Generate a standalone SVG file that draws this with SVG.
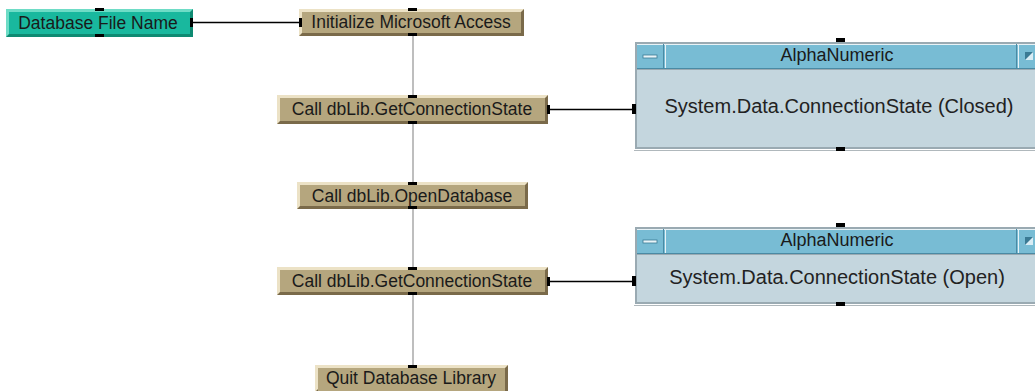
<svg xmlns="http://www.w3.org/2000/svg" width="1035" height="391" viewBox="0 0 1035 391">
<style>
text{font-family:"Liberation Sans",Arial,sans-serif;font-size:17.5px;fill:#1a1a1a;text-anchor:middle}
text.title{font-size:18px}
text.val{font-size:20px;fill:#222}
.tsh{fill:#7a6a4a}.thi{fill:#ece2c6}.tface{fill:#b5a67e}
.gsh{fill:#0e8a72}.ghi{fill:#6edcc6}.gface{fill:#19b89e}
.port{fill:#000}
.wire{stroke:#000;stroke-width:1.5;fill:none}
.seq{stroke:#a8a8a8;stroke-width:1.5;fill:none}
.pframe{fill:#9aaab2}
.ptitle{fill:#78bcd4}
.pbody{fill:#c4d6de}
.pline{stroke:#4a8aa4;stroke-width:1}
.pedge{stroke:#e8f2f6;stroke-width:1}
</style>
<g id="connectors">
<line class="seq" x1="413" y1="36" x2="413" y2="365"/>
<line class="wire" x1="193" y1="22.5" x2="299" y2="22.5"/>
<line class="wire" x1="550" y1="109.5" x2="633" y2="109.5"/>
<line class="wire" x1="550" y1="281.5" x2="633" y2="281.5"/>
</g>
<g id="db-file-name">
<rect class="gsh" x="6" y="9" width="187" height="28"/>
<polygon class="ghi" points="6,9 193,9 190,12 9,12 9,34 6,37"/>
<rect class="gface" x="9" y="12" width="181" height="22"/>
<text x="98" y="29">Database File Name</text>
<rect class="port" x="95" y="8" width="9" height="3"/>
<rect class="port" x="95" y="34" width="9" height="3"/>
<rect class="port" x="190" y="18" width="3" height="9"/>
</g>
<g id="init-access">
<rect class="tsh" x="299" y="9" width="225" height="27"/>
<polygon class="thi" points="299,9 524,9 521,12 302,12 302,33 299,36"/>
<rect class="tface" x="302" y="12" width="219" height="21"/>
<text x="411" y="28">Initialize Microsoft Access</text>
<rect class="port" x="408" y="8" width="9" height="3"/>
<rect class="port" x="408" y="33" width="9" height="3"/>
<rect class="port" x="299" y="18" width="3" height="9"/>
</g>
<g id="get-state-1">
<rect class="tsh" x="277" y="95" width="271" height="29"/>
<polygon class="thi" points="277,95 548,95 545,98 280,98 280,121 277,124"/>
<rect class="tface" x="280" y="98" width="265" height="23"/>
<text x="412" y="115">Call dbLib.GetConnectionState</text>
<rect class="port" x="408" y="95" width="9" height="3"/>
<rect class="port" x="408" y="121" width="9" height="3"/>
<rect class="port" x="547" y="105" width="3" height="9"/>
</g>
<g id="open-db">
<rect class="tsh" x="297" y="182" width="231" height="27"/>
<polygon class="thi" points="297,182 528,182 525,185 300,185 300,206 297,209"/>
<rect class="tface" x="300" y="185" width="225" height="21"/>
<text x="412" y="202">Call dbLib.OpenDatabase</text>
<rect class="port" x="408" y="182" width="9" height="3"/>
<rect class="port" x="408" y="206" width="9" height="3"/>
</g>
<g id="get-state-2">
<rect class="tsh" x="277" y="267" width="271" height="28"/>
<polygon class="thi" points="277,267 548,267 545,270 280,270 280,292 277,295"/>
<rect class="tface" x="280" y="270" width="265" height="22"/>
<text x="412" y="287">Call dbLib.GetConnectionState</text>
<rect class="port" x="408" y="267" width="9" height="3"/>
<rect class="port" x="408" y="292" width="9" height="3"/>
<rect class="port" x="547" y="277" width="3" height="9"/>
</g>
<g id="quit-lib">
<rect class="tsh" x="315" y="365" width="193" height="27"/>
<polygon class="thi" points="315,365 508,365 505,368 318,368 318,389 315,392"/>
<rect class="tface" x="318" y="368" width="187" height="24"/>
<text x="411" y="384">Quit Database Library</text>
<rect class="port" x="408" y="365" width="9" height="3"/>
</g>
<g id="alpha-closed">
<rect class="pframe" x="635" y="42" width="402" height="107"/>
<rect class="ptitle" x="637" y="44" width="400" height="24"/>
<line class="pedge" x1="637" y1="44.5" x2="1035" y2="44.5"/>
<line class="pline" x1="663.5" y1="44" x2="663.5" y2="68"/>
<line class="pedge" x1="665.5" y1="44" x2="665.5" y2="68"/>
<line class="pline" x1="1016.5" y1="44" x2="1016.5" y2="68"/>
<line class="pedge" x1="1018.5" y1="44" x2="1018.5" y2="68"/>
<rect x="643" y="55" width="14" height="3" fill="#e8f4f8" stroke="#3a7a94" stroke-width="0.8"/>
<rect x="1025" y="52" width="8" height="8" fill="#3a7a94"/>
<polygon points="1025,60 1033,52 1033,60" fill="#d8ecf4"/>
<line class="pline" x1="637" y1="68.5" x2="1035" y2="68.5"/>
<rect class="pbody" x="637" y="70" width="400" height="77"/>
<line x1="634" y1="150.5" x2="1035" y2="150.5" stroke="#b0b8bc" stroke-width="1"/>
<text class="title" x="837" y="61">AlphaNumeric</text>
<text class="val" x="839" y="113">System.Data.ConnectionState (Closed)</text>
<rect class="port" x="836" y="38" width="9" height="4"/>
<rect class="port" x="836" y="147" width="9" height="4"/>
<rect class="port" x="632" y="104" width="4" height="10"/>
</g>
<g id="alpha-open">
<rect class="pframe" x="635" y="227" width="402" height="77"/>
<rect class="ptitle" x="637" y="229" width="400" height="24"/>
<line class="pedge" x1="637" y1="229.5" x2="1035" y2="229.5"/>
<line class="pline" x1="663.5" y1="229" x2="663.5" y2="253"/>
<line class="pedge" x1="665.5" y1="229" x2="665.5" y2="253"/>
<line class="pline" x1="1016.5" y1="229" x2="1016.5" y2="253"/>
<line class="pedge" x1="1018.5" y1="229" x2="1018.5" y2="253"/>
<rect x="643" y="240" width="14" height="3" fill="#e8f4f8" stroke="#3a7a94" stroke-width="0.8"/>
<rect x="1025" y="237" width="8" height="8" fill="#3a7a94"/>
<polygon points="1025,245 1033,237 1033,245" fill="#d8ecf4"/>
<line class="pline" x1="637" y1="253.5" x2="1035" y2="253.5"/>
<rect class="pbody" x="637" y="255" width="400" height="47"/>
<line x1="634" y1="305.5" x2="1035" y2="305.5" stroke="#b0b8bc" stroke-width="1"/>
<text class="title" x="837" y="246">AlphaNumeric</text>
<text class="val" x="837" y="284">System.Data.ConnectionState (Open)</text>
<rect class="port" x="836" y="223" width="9" height="4"/>
<rect class="port" x="836" y="302" width="9" height="4"/>
<rect class="port" x="632" y="276" width="4" height="10"/>
</g>
</svg>
